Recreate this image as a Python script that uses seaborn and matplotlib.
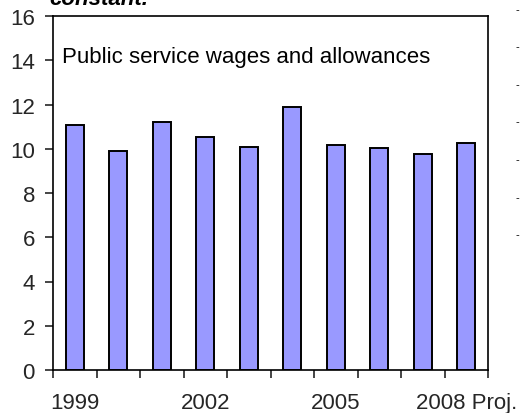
import matplotlib
matplotlib.use("Agg")
import matplotlib.pyplot as plt
import seaborn as sns
import numpy as np
import pandas as pd

categories = ["1999", "2000", "2001", "2002", "2003", "2004", "2005", "2006", "2007", "2008 Proj."]
values = [11.07, 9.88, 11.22, 10.55, 10.08, 11.90, 10.17, 10.03, 9.76, 10.26]
shown_labels = ["1999", "", "", "2002", "", "", "2005", "", "", "2008 Proj."]
y_ticks = [0, 2, 4, 6, 8, 10, 12, 14, 16]

sns.set_theme(style="white")
plt.rcParams['font.family'] = ['Liberation Sans', 'DejaVu Sans']

fig = plt.figure(figsize=(5.21, 4.14), dpi=100)
ax = fig.add_axes([53/521, 1-371/414, (488-53)/521, (371-17)/414])

df = pd.DataFrame({"year": categories, "value": values})
sns.barplot(data=df, x="year", y="value", color="#9999FF", edgecolor="black",
            linewidth=1.4, width=0.42, saturation=1, ax=ax)

ax.set_ylim(0, 16)
ax.set_xlim(-0.5, len(categories) - 0.5)
ax.set_yticks(y_ticks)
ax.set_yticklabels([str(t) for t in y_ticks], fontsize=16)
ax.set_xticks(range(len(categories)))
ax.set_xticklabels(shown_labels, fontsize=16)
ax.set_xticks(np.arange(-0.5, len(categories), 1.0), minor=True)
ax.tick_params(axis='x', which='major', length=0, pad=16)
ax.tick_params(axis='x', which='minor', length=6, width=1.2, direction='out', bottom=True)
ax.tick_params(axis='y', which='major', length=6, width=1.2, direction='out', left=True, pad=7)
ax.set_xlabel("")
ax.set_ylabel("")
for s in ax.spines.values():
    s.set_visible(True)
    s.set_color("black")
    s.set_linewidth(1.2)

ax.text((62-53)/435, 1-(58-17)/354, "Public service wages and allowances", transform=ax.transAxes,
        fontsize=16, va='center', ha='left', color='black')

fig.text(49/521, 1-5/414, "constant.", fontsize=16, fontweight='bold', fontstyle='italic',
         va='baseline', ha='left', color='black')

for yp in [10, 47, 85, 122, 160, 198, 235]:
    fig.text(517/521, 1-yp/414, "-", fontsize=8, va='center', ha='center', color='black')

fig.savefig("out.png", dpi=100)
